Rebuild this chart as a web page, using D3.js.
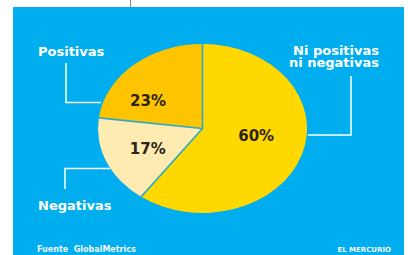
<!DOCTYPE html>
<html>
<head>
  <meta charset="utf-8">
  <script src="https://d3js.org/d3.v7.min.js"></script>
  <style>
    body { margin: 0; background: #fff; }
    text { font-family: "DejaVu Sans", sans-serif; font-weight: bold; white-space: pre; }
  </style>
</head>
<body>
  <div id="chart"></div>
  <script>
// data
const categories = ["Ni positivas ni negativas", "Negativas", "Positivas"];
const values = [60, 17, 23];
const valueLabels = ["60%", "17%", "23%"];
const colors = ["#ffd800", "#fdebb2", "#ffc400"];
const source = "Fuente  GlobalMetrics";
const brand = "EL MERCURIO";

const width = 408, height = 255;
const cx = 202.5, cy = 128.5, rx = 104.5, ry = 84.5;

const svg = d3.select("#chart").append("svg")
  .attr("width", width)
  .attr("height", height);

// little tick line above the panel
svg.append("line")
  .attr("x1", 130.5).attr("x2", 130.5)
  .attr("y1", 0).attr("y2", 7)
  .attr("stroke", "#888").attr("stroke-width", 1);

// blue panel
svg.append("rect")
  .attr("x", 13).attr("y", 7)
  .attr("width", 391).attr("height", height - 7)
  .attr("fill", "#00aeef");

const pie = d3.pie().sort(null).value(d => d)(values);
const arc = d3.arc().innerRadius(0).outerRadius(rx);

// pie squashed into an ellipse
const g = svg.append("g")
  .attr("transform", `translate(${cx},${cy}) scale(1,${ry / rx})`);

g.selectAll("path")
  .data(pie)
  .join("path")
  .attr("d", arc)
  .attr("fill", (d, i) => colors[i]);

// slice boundaries
g.selectAll("line.sep")
  .data(pie)
  .join("line")
  .attr("class", "sep")
  .attr("x1", 0).attr("y1", 0)
  .attr("x2", d => Math.sin(d.startAngle) * rx)
  .attr("y2", d => -Math.cos(d.startAngle) * rx)
  .attr("stroke", "#2fa9c6")
  .attr("stroke-width", 1.6)
  .attr("vector-effect", "non-scaling-stroke");

// percentage labels, centroid plus a small hand nudge
const labelArc = d3.arc().innerRadius(0).outerRadius(rx * 1.1);
const nudge = [[-1, -7], [-2, 1.5], [-16.5, 6.7]];
svg.selectAll("text.pct")
  .data(pie)
  .join("text")
  .attr("class", "pct")
  .attr("x", (d, i) => cx + labelArc.centroid(d)[0] + nudge[i][0])
  .attr("y", (d, i) => cy + labelArc.centroid(d)[1] * ry / rx + nudge[i][1])
  .attr("text-anchor", "middle")
  .attr("dy", "0.36em")
  .attr("fill", "#2b2416")
  .style("font-size", "15px")
  .text((d, i) => valueLabels[i]);

// callout labels
const white = "#fff";
const lbl = (x, y, t, anchor) => svg.append("text")
  .attr("x", x).attr("y", y)
  .attr("text-anchor", anchor || "start")
  .attr("fill", white)
  .style("font-size", "13px")
  .text(t);

lbl(38, 55.5, categories[2]);
lbl(379, 55, "Ni positivas", "end");
lbl(379, 67, "ni negativas", "end");
lbl(38, 210, categories[1]);

const leader = pts => svg.append("polyline")
  .attr("points", pts.map(p => p.join(",")).join(" "))
  .attr("fill", "none")
  .attr("stroke", white)
  .attr("stroke-width", 1.5);

leader([[66, 63], [66, 102.5], [101, 102.5]]);
leader([[351, 76], [351, 135], [308, 135]]);
leader([[65, 189], [65, 168.5], [110, 168.5]]);

// footer
svg.append("text")
  .attr("x", 37).attr("y", 251.5)
  .attr("fill", "#f2f8ff")
  .style("font-size", "8px")
  .text(source);

svg.append("text")
  .attr("x", 391).attr("y", 251.5)
  .attr("text-anchor", "end")
  .attr("fill", "#f2f8ff")
  .style("font-size", "7px")
  .text(brand);
  </script>
</body>
</html>
